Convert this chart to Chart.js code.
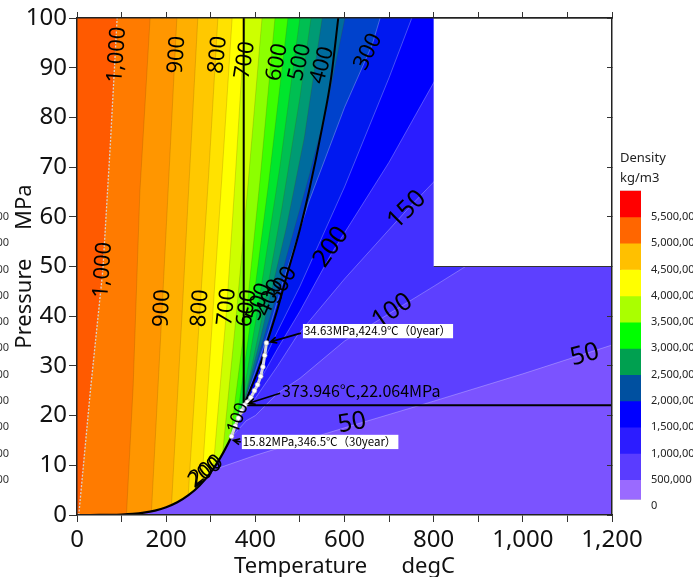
<!DOCTYPE html>
<html>
<head>
<meta charset="utf-8">
<title>Density - Pressure / Temperature</title>
<script src="https://cdn.jsdelivr.net/npm/chart.js@4.4.1/dist/chart.umd.min.js"></script>
<style>
  html, body { margin: 0; padding: 0; background: #fff; }
  #wrap { position: relative; width: 693px; height: 577px; overflow: hidden; }
  #wrap canvas { position: absolute; top: 0; }
</style>
</head>
<body>
<div id="wrap">
  <canvas id="plot" width="693" height="577" style="left:0"></canvas>
  <canvas id="scale" width="81" height="577" style="left:612px"></canvas>
</div>
<script>
// ---------- data (Temperature degC, Pressure MPa) ----------
const satT = [0, 25, 50, 75, 100, 125, 150, 175, 200, 225, 250, 275, 300, 320, 340, 350, 360, 365, 370, 373.946];
const satP = [0.0006, 0.0032, 0.0124, 0.0386, 0.1014, 0.232, 0.476, 0.892, 1.555, 2.548, 3.976, 5.942, 8.588, 11.29, 14.6, 16.53, 18.67, 19.84, 21.04, 22.064];

// density levels kg/m3 and the contour line of each one
const levels = [1000, 950, 900, 850, 800, 750, 700, 650, 600, 550, 500, 450, 400, 350, 300, 250, 200, 150, 100, 50];
const contourT = [
  [4, 30, 58, 75, 90],
  [111, 126, 141, 164],
  [167, 191, 206, 224],
  [212, 236, 252, 271],
  [249.5, 276, 295, 316],
  [280, 305, 325, 348],
  [305.5, 336, 355, 377],
  [326.5, 358, 385, 415],
  [343.5, 381, 410, 444],
  [356.5, 394, 430, 473],
  [365, 408, 455, 500],
  [370, 390, 420, 460, 500, 525],
  [373, 390, 410, 433, 470, 510, 550],
  [373.946, 400, 440, 470, 520, 560, 601],
  [373.946, 400, 430, 460, 520, 600, 662, 680],
  [373.946, 400, 450, 500, 600, 700, 751],
  [369.8, 380, 400, 450, 500, 570, 700, 800, 880],
  [361, 375, 400, 450, 493, 600, 740, 800, 900, 1000, 1100],
  [345, 380, 400, 450, 500, 600, 700, 800, 866, 1000, 1200],
  [303, 400, 500, 617, 800, 1000, 1200]
];
const contourP = [
  [0, 25, 49.3, 75, 100],
  [0.15, 26, 65, 100],
  [0.74, 41.6, 68, 100],
  [2.03, 41, 68, 100],
  [3.95, 41.6, 68, 100],
  [6.42, 41, 68, 100],
  [9.33, 41.9, 68, 100],
  [12.35, 41, 68, 100],
  [15.27, 41.6, 67, 100],
  [17.9, 42, 67, 100],
  [19.84, 42.9, 70, 100],
  [21.04, 29, 42, 62, 84, 100],
  [21.8, 28, 35, 43.9, 58, 76, 100],
  [22.064, 30, 42, 52, 68, 82, 100],
  [22.064, 28.8, 37, 46.3, 63, 82, 94.6, 100],
  [22.064, 27.5, 37, 46, 66, 88, 100],
  [21.0, 22.8, 25.5, 33.5, 41, 52.5, 71, 87, 100],
  [18.9, 21.2, 23.5, 30, 36, 47.5, 61.4, 67, 78, 89, 100],
  [15.5, 19, 20, 24.5, 27.5, 35, 40.5, 46, 49.7, 57, 68],
  [9.0, 12.0, 14.8, 18.0, 22.9, 28.4, 34.2]
];
// fill colour of the area denser than each level
const bandColors = ['#FF5A00', '#FF7B00', '#FF9600', '#FFAF00', '#FFC800', '#FFE200', '#FFFF00',
  '#CDFF00', '#8CFF00', '#3CFF00', '#00E62D', '#00BF52', '#009B74', '#006C9E', '#0042CC',
  '#0018F0', '#0000FF', '#2A1DFF', '#4431FF', '#5D40FF'];
const lowColor = '#7B53FF';

// pseudo-critical curve, critical isotherm / isobar
const pseudoT = [373.946, 390, 410, 428, 450, 470, 500, 520, 550, 570, 586];
const pseudoP = [22.064, 25.5, 30, 35.2, 41.5, 48, 57.5, 65, 78, 88, 100];
const isoT = [373.946, 373.946];
const isoP = [22.064, 100];
const isobarT = [373.946, 1200];
const isobarP = [22.064, 22.064];

// blank (no data) region
const voidT = [800, 1200, 1200, 800];
const voidP = [50, 50, 100, 100];

// reservoir path 0 year -> 30 year
const pathT = [424.9, 421, 417, 412, 405, 398, 390, 382, 376, 369, 362, 355, 346.5];
const pathP = [34.63, 32.1, 29.8, 27.9, 26.2, 25.0, 23.6, 22.7, 22.1, 20.9, 19.5, 17.9, 15.82];

// contour labels
const labelText  = ['1,000', '900', '800', '700', '600', '500', '400', '300',
  '1,000', '900', '800', '700', '600', '500', '400', '300', '200', '150', '100', '50', '50', '200', '200', '100'];
const labelT     = [89.7, 224, 316, 377, 449, 500, 550, 653, 58, 191, 276, 336, 381, 408, 433, 460, 570, 740, 707, 1139, 617, 287, 290, 361];
const labelP     = [92.6, 92.6, 92.6, 91.5, 91.1, 91.1, 90.5, 93.2, 49.3, 41.6, 41.6, 41.9, 41.6, 42.9, 43.7, 46.3, 53.9, 61.4, 41.0, 32.2, 18.5, 8.5, 9.0, 19.5];
const labelAngle = [-86, -86, -84, -81, -78, -76, -74, -64, -86, -87, -86, -84, -82, -72, -66, -60, -55, -45, -35, -15, -10, -38, -38, -70];
const labelSize  = [22, 22, 22, 22, 22, 22, 22, 22, 22, 22, 22, 22, 22, 22, 22, 22, 25, 25, 25, 25, 25, 21, 21, 18];

// axis ticks
const xTickValues = [0, 200, 400, 600, 800, 1000, 1200];
const xTickLabels = ['0', '200', '400', '600', '800', '1,000', '1,200'];
const yTickValues = [0, 10, 20, 30, 40, 50, 60, 70, 80, 90, 100];
const yTickLabels = ['0', '10', '20', '30', '40', '50', '60', '70', '80', '90', '100'];

// colour scale legend (top to bottom)
const legendColors = ['#FF0000', '#FF6600', '#FFC000', '#FFFF00', '#AAFF00', '#00FF00',
  '#00A050', '#0050A0', '#0000FF', '#2C1CFF', '#5A3CFF', '#9A6AFF'];
const legendHigh = [6000000, 5500000, 5000000, 4500000, 4000000, 3500000, 3000000, 2500000, 2000000, 1500000, 1000000, 500000];
const legendLow  = [5500000, 5000000, 4500000, 4000000, 3500000, 3000000, 2500000, 2000000, 1500000, 1000000, 500000, 130000];
const legendTickValues = [0, 500000, 1000000, 1500000, 2000000, 2500000, 3000000, 3500000, 4000000, 4500000, 5000000, 5500000];
const legendTickLabels = ['0', '500,000', '1,000,000', '1,500,000', '2,000,000', '2,500,000', '3,000,000',
  '3,500,000', '4,000,000', '4,500,000', '5,000,000', '5,500,000'];

// ---------- helpers ----------
const FONT = "'Noto Sans', 'DejaVu Sans', sans-serif";
const JFONT = "'Noto Sans CJK JP', 'Noto Sans', sans-serif";
const pts = (T, P) => T.map((t, i) => ({ x: t, y: P[i] }));

// area denser than level i: saturation curve, the contour, then round the top-left corner
function bandPolygon(i) {
  const T = contourT[i], P = contourP[i];
  const poly = [];
  satT.forEach((t, k) => { if (t < T[0]) poly.push({ x: t, y: satP[k] }); });
  T.forEach((t, k) => poly.push({ x: t, y: P[k] }));
  if (P[P.length - 1] < 100) poly.push({ x: 1200, y: 100 });
  poly.push({ x: 0, y: 100 });
  return poly;
}

const base = { pointRadius: 0, pointHoverRadius: 0, tension: 0, fill: false };

// ---------- colour scale ----------
const scaleChart = new Chart(document.getElementById('scale'), {
  type: 'bar',
  data: {
    labels: [''],
    datasets: legendColors.map((c, i) => ({
      data: [[legendLow[i], legendHigh[i]]],
      backgroundColor: c, borderWidth: 0,
      grouped: false, barPercentage: 1, categoryPercentage: 1
    })).concat([{
      data: [[legendLow[legendLow.length - 1], legendHigh[0]]],
      backgroundColor: 'rgba(0,0,0,0)', borderColor: '#444', borderWidth: 1, borderSkipped: false,
      grouped: false, barPercentage: 1, categoryPercentage: 1
    }])
  },
  options: {
    responsive: false,
    animation: false,
    events: [],
    layout: { padding: { left: 8, top: 148.4, bottom: 71, right: 0 } },
    plugins: {
      legend: { display: false },
      tooltip: { enabled: false },
      title: {
        display: true, text: ['Density', 'kg/m3'], align: 'start', color: '#222',
        font: { family: FONT, size: 13, weight: 'normal', lineHeight: 1.55 },
        padding: { top: 0, bottom: 2 }
      }
    },
    scales: {
      x: { display: false },
      y: {
        position: 'right', min: 0, max: 6000000,
        ticks: {
          stepSize: 500000, maxTicksLimit: 20, padding: 2, color: '#222',
          font: { family: FONT, size: 11 },
          callback: (v) => { const k = legendTickValues.indexOf(v); return k >= 0 ? legendTickLabels[k] : ''; }
        },
        grid: { display: false },
        border: { display: false },
        afterFit: (s) => { s.width = 52; }
      }
    }
  }
});

// ---------- plot ----------
const datasets = [];
datasets.push({ ...base, data: pts([0, 1200, 1200, 0], [0, 0, 100, 100]), fill: 'shape',
  backgroundColor: lowColor, borderWidth: 0, order: 100 });
levels.forEach((L, i) => {
  datasets.push({ ...base, data: bandPolygon(i), fill: 'shape', backgroundColor: bandColors[i],
    borderWidth: 0, order: 50 + i });
  datasets.push({ ...base, data: pts(contourT[i], contourP[i]),
    borderColor: L === 1000 ? 'rgba(215,215,215,0.95)' : (L <= 300 ? 'rgba(255,255,255,0.35)' : 'rgba(90,60,0,0.22)'),
    borderWidth: L === 1000 ? 1.3 : 0.8, borderDash: L === 1000 ? [2, 1.5] : [], order: 40 });
});
datasets.push({ ...base, data: pts(voidT, voidP), fill: 'shape', backgroundColor: '#fff',
  borderColor: '#333', borderWidth: 1, order: 30 });
datasets.push({ ...base, data: pts(satT, satP), borderColor: '#000', borderWidth: 2.2,
  cubicInterpolationMode: 'monotone', order: 20 });
datasets.push({ ...base, data: pts(pseudoT, pseudoP), borderColor: '#000', borderWidth: 2,
  cubicInterpolationMode: 'monotone', order: 20 });
datasets.push({ ...base, data: pts(isoT, isoP), borderColor: '#000', borderWidth: 2, order: 20 });
datasets.push({ ...base, data: pts(isobarT, isobarP), borderColor: '#000', borderWidth: 2, order: 20 });
datasets.push({ ...base, data: pts(pathT, pathP), borderColor: 'rgba(225,225,225,0.95)', borderWidth: 3,
  pointRadius: 2.4, pointBackgroundColor: '#fff', pointBorderColor: '#aaa', pointBorderWidth: 0.6, order: 10 });

function arrow(ctx, x1, y1, x2, y2) {
  const a = Math.atan2(y2 - y1, x2 - x1), h = 7;
  ctx.beginPath();
  ctx.moveTo(x1, y1); ctx.lineTo(x2, y2);
  ctx.moveTo(x2 - h * Math.cos(a - 0.45), y2 - h * Math.sin(a - 0.45));
  ctx.lineTo(x2, y2);
  ctx.lineTo(x2 - h * Math.cos(a + 0.45), y2 - h * Math.sin(a + 0.45));
  ctx.stroke();
}

function boxText(ctx, text, x, y, size) {
  ctx.font = size + 'px ' + JFONT;
  const w = ctx.measureText(text).width;
  ctx.fillStyle = '#fff';
  ctx.fillRect(x - 1, y - size * 0.62, w + 3, size * 1.24);
  ctx.fillStyle = '#000';
  ctx.textAlign = 'left';
  ctx.fillText(text, x, y);
}

const annotate = {
  id: 'annotate',
  afterDatasetsDraw(chart) {
    const { ctx, scales: { x, y } } = chart;
    ctx.save();
    ctx.textBaseline = 'middle';
    // contour labels
    labelText.forEach((t, i) => {
      ctx.save();
      ctx.translate(x.getPixelForValue(labelT[i]), y.getPixelForValue(labelP[i]));
      ctx.rotate(labelAngle[i] * Math.PI / 180);
      ctx.font = labelSize[i] + 'px ' + FONT;
      ctx.fillStyle = '#000';
      ctx.textAlign = 'center';
      ctx.fillText(t, 0, 0);
      ctx.restore();
    });
    // notes
    ctx.strokeStyle = '#000';
    ctx.lineWidth = 1.6;
    const p0 = [x.getPixelForValue(pathT[0]), y.getPixelForValue(pathP[0])];
    const pc = [x.getPixelForValue(isoT[0]), y.getPixelForValue(isoP[0])];
    const pn = pathT.length - 1;
    const p30 = [x.getPixelForValue(pathT[pn]), y.getPixelForValue(pathP[pn])];

    const b1 = [x.getPixelForValue(509), y.getPixelForValue(37.0)];
    boxText(ctx, '34.63MPa,424.9℃（0year）', b1[0], b1[1], 11.5);
    arrow(ctx, b1[0] - 3, b1[1] + 2, p0[0] + 4, p0[1] - 1);

    const b2 = [x.getPixelForValue(460), y.getPixelForValue(24.9)];
    ctx.font = '16px ' + JFONT;
    ctx.fillStyle = '#000';
    ctx.textAlign = 'left';
    ctx.fillText('373.946℃,22.064MPa', b2[0], b2[1]);
    arrow(ctx, b2[0] - 2, b2[1] + 2, pc[0] + 5, pc[1] - 2);

    const b3 = [x.getPixelForValue(372), y.getPixelForValue(14.7)];
    boxText(ctx, '15.82MPa,346.5℃（30year）', b3[0], b3[1], 11.5);
    arrow(ctx, b3[0] - 2, b3[1], p30[0] + 2, p30[1] + 4);

    // clipped scale labels at the left edge
    ctx.font = '11px ' + FONT;
    ctx.fillStyle = '#333';
    ctx.textAlign = 'right';
    const ly = scaleChart.scales.y;
    legendTickValues.forEach((v, i) => {
      if (v > 0) ctx.fillText(legendTickLabels[i], 9, ly.getPixelForValue(v));
    });
    ctx.restore();
  }
};

const axisFont = { family: FONT, size: 24 };
new Chart(document.getElementById('plot'), {
  type: 'line',
  data: { datasets },
  options: {
    responsive: false,
    animation: false,
    events: [],
    layout: { padding: 0 },
    plugins: { legend: { display: false }, tooltip: { enabled: false } },
    scales: {
      x: {
        type: 'linear', position: 'bottom', min: 0, max: 1200,
        ticks: {
          stepSize: 100, maxTicksLimit: 20, autoSkip: false, maxRotation: 0, minRotation: 0,
          padding: 4, color: '#111', font: axisFont,
          callback: (v) => { const k = xTickValues.indexOf(v); return k >= 0 ? xTickLabels[k] : ''; }
        },
        grid: { drawOnChartArea: false, tickLength: 7, color: '#333' },
        border: { color: '#222', width: 1.5, z: 1 },
        title: { display: true, text: 'Temperature      degC', color: '#111',
          font: { family: FONT, size: 22, lineHeight: 0.9 }, padding: { top: 0, bottom: 0 } },
        afterFit: (s) => { s.height = 62; }
      },
      x2: {
        type: 'linear', position: 'top', min: 0, max: 1200,
        ticks: { stepSize: 100, maxTicksLimit: 20, display: false },
        grid: { drawOnChartArea: false, tickLength: 6, color: '#333' },
        border: { color: '#222', width: 1.5, z: 1 },
        afterFit: (s) => { s.height = 18; }
      },
      y: {
        type: 'linear', position: 'left', min: 0, max: 100,
        ticks: {
          stepSize: 10, padding: 2, color: '#111', font: axisFont,
          callback: (v) => { const k = yTickValues.indexOf(v); return k >= 0 ? yTickLabels[k] : ''; }
        },
        grid: { drawOnChartArea: false, tickLength: 8, color: '#333' },
        border: { color: '#222', width: 1.5, z: 1 },
        title: { display: true, text: 'Pressure     MPa', color: '#111',
          font: { family: FONT, size: 22 }, padding: { top: 12, bottom: 0 } },
        afterFit: (s) => { s.width = 77; }
      },
      y2: {
        type: 'linear', position: 'right', min: 0, max: 100,
        ticks: { stepSize: 10, display: false },
        grid: { drawOnChartArea: false, tickLength: -5, color: '#333', z: 1 },
        border: { color: '#222', width: 1.5, z: 1 },
        afterFit: (s) => { s.width = 81; }
      }
    }
  },
  plugins: [annotate]
});
</script>
</body>
</html>
